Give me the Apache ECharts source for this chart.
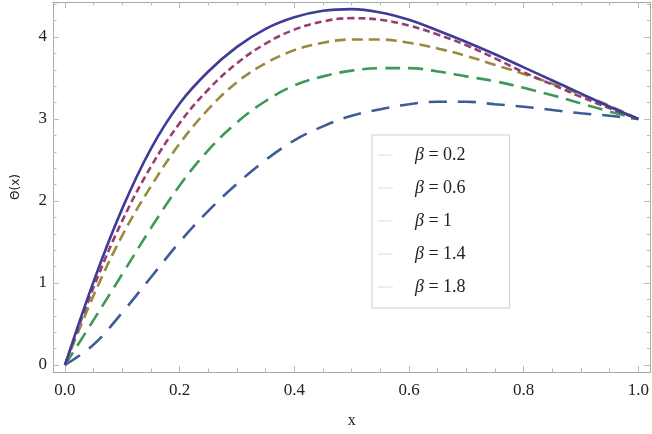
<!DOCTYPE html>
<html>
<head>
<meta charset="utf-8">
<script src="https://cdn.jsdelivr.net/npm/echarts@6/dist/echarts.min.js"></script>
<style>html,body{margin:0;padding:0;background:#fff;}#c{width:652px;height:434px;}</style>
</head>
<body>
<div id="c"></div>
<script>
const xs = [0,0.05,0.1,0.15,0.2,0.25,0.3,0.35,0.4,0.45,0.5,0.55,0.6,0.65,0.7,0.75,0.8,0.85,0.9,0.95,1.0];
const beta02 = [0,1.02,1.91,2.64,3.19,3.58,3.88,4.10,4.24,4.32,4.34,4.30,4.21,4.08,3.94,3.79,3.63,3.47,3.31,3.15,3.0];
const beta06 = [0,0.95,1.76,2.42,2.95,3.36,3.68,3.92,4.09,4.19,4.23,4.21,4.14,4.03,3.90,3.74,3.57,3.42,3.27,3.13,3.0];
const beta10 = [0,0.85,1.58,2.18,2.70,3.12,3.45,3.68,3.84,3.93,3.97,3.97,3.93,3.86,3.77,3.66,3.55,3.43,3.30,3.16,3.0];
const beta14 = [0,0.55,1.11,1.67,2.19,2.62,2.96,3.22,3.41,3.52,3.59,3.62,3.62,3.58,3.52,3.46,3.38,3.29,3.19,3.09,3.0];
const beta18 = [0,0.25,0.64,1.07,1.50,1.88,2.21,2.50,2.74,2.91,3.04,3.12,3.18,3.21,3.21,3.18,3.15,3.11,3.07,3.04,3.0];
const seriesNames = ['β = 0.2','β = 0.6','β = 1','β = 1.4','β = 1.8'];
const xMajor = [0,0.2,0.4,0.6,0.8,1.0];
const xMinor = [0.05,0.1,0.15,0.25,0.3,0.35,0.45,0.5,0.55,0.65,0.7,0.75,0.85,0.9,0.95];
const yMajor = [0,1,2,3,4];
const yMinor = [0.2,0.4,0.6,0.8,1.2,1.4,1.6,1.8,2.2,2.4,2.6,2.8,3.2,3.4,3.6,3.8,4.2,4.4];

const allData = [beta02,beta06,beta10,beta14,beta18];
const colors = ['#3d3d99','#993d71','#998b3d','#3d9956','#3d5a99'];
const dashes = ['solid',[7,4],[11,6],[15,8],[18,11]];

const XMIN=-0.0209, XMAX=1.0209, YMIN=-0.0854, YMAX=4.427;
const frame = '#a8a8a8';
const tickCol = '#b8b8b8';
const labelFont = {fontFamily:'Liberation Serif', fontSize:17, color:'#222'};

function xAx(pos, major, showLabel, showName){
  return {
    type:'value', position:pos, min:XMIN, max:XMAX,
    axisLine:{show:major, onZero:false, lineStyle:{color:frame,width:1}},
    axisTick:{show:true, inside:true, length: major?6:3.5, customValues: major?xMajor:xMinor, lineStyle:{color:tickCol}},
    axisLabel:{show:showLabel, customValues:xMajor, margin:10, formatter:v=>(+v).toFixed(1), ...labelFont},
    splitLine:{show:false},
    name: showName?'x':'', nameLocation:'middle', nameGap:41,
    nameTextStyle:{fontFamily:'Liberation Serif', fontSize:16, color:'#222'}
  };
}
function yAx(pos, major, showLabel, showName){
  return {
    type:'value', position:pos, min:YMIN, max:YMAX,
    axisLine:{show:major, onZero:false, lineStyle:{color:frame,width:1}},
    axisTick:{show:true, inside:true, length: major?6:3.5, customValues: major?yMajor:yMinor, lineStyle:{color:tickCol}},
    axisLabel:{show:showLabel, customValues:yMajor, margin:6, formatter:v=>String(Math.round(v)), ...labelFont},
    splitLine:{show:false},
    name: showName?'Θ(x)':'', nameLocation:'middle', nameGap:31, nameRotate:90,
    nameTextStyle:{fontFamily:'DejaVu Sans', fontSize:12, color:'#222'}
  };
}

const chart = echarts.init(document.getElementById('c'), null, {renderer:'canvas'});
chart.setOption({
  animation:false,
  backgroundColor:'#fff',
  grid:{left:53, right:1, top:2, bottom:62, containLabel:false},
  xAxis:[xAx('bottom',true,true,true), xAx('bottom',false,false,false), xAx('top',true,false,false), xAx('top',false,false,false)],
  yAxis:[yAx('left',true,true,true), yAx('left',false,false,false), yAx('right',true,false,false), yAx('right',false,false,false)],
  legend:{
    orient:'vertical', left:372, top:135,
    padding:[10,44,11,6], itemGap:13,
    borderColor:'#cfcfcf', borderWidth:1, backgroundColor:'#fff',
    icon:'rect', itemWidth:15, itemHeight:1,
    itemStyle:{color:'#dcdcdc', borderWidth:0},
    data: seriesNames,
    formatter: n => n.replace('β','{i|β}'),
    textStyle:{fontFamily:'Liberation Serif', fontSize:18, color:'#222', lineHeight:20, padding:[0,0,0,17],
      rich:{i:{fontFamily:'Liberation Serif', fontStyle:'italic', fontSize:18, color:'#222'}}}
  },
  series: allData.map((d,i)=>({
    type:'line', name:seriesNames[i], xAxisIndex:0, yAxisIndex:0,
    data: xs.map((x,j)=>[x,d[j]]),
    smooth:0.4, symbol:'none', z: 10-i,
    lineStyle:{color:colors[i], width:2.6, type:dashes[i]},
    itemStyle:{color:colors[i]}
  }))
});
</script>
</body>
</html>
